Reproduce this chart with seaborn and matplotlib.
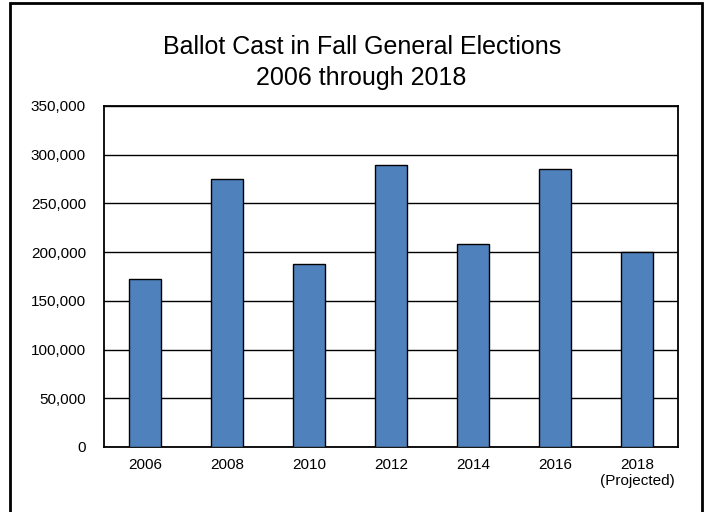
import matplotlib
matplotlib.use("Agg")
import matplotlib.pyplot as plt
from matplotlib.patches import Rectangle
from matplotlib.ticker import FuncFormatter
import seaborn as sns
import pandas as pd

# values
years = ["2006", "2008", "2010", "2012", "2014", "2016", "2018\n(Projected)"]
ballots = [172500, 275000, 188000, 289000, 208000, 285000, 200000]
y_ticks = [0, 50000, 100000, 150000, 200000, 250000, 300000, 350000]

sns.set_style("white")
plt.rcParams['font.family'] = ['Liberation Sans', 'DejaVu Sans']

df = pd.DataFrame({"year": years, "ballots": ballots})

fig = plt.figure(figsize=(7.05, 5.12), dpi=100)
ax = fig.add_axes([0.1475, 0.127, 0.8142, 0.666])

sns.barplot(data=df, x="year", y="ballots", color="#4F81BD", saturation=1,
            edgecolor="black", linewidth=1, width=0.4, ax=ax, zorder=3)

ax.set_ylim(0, 350000)
ax.set_yticks(y_ticks)
ax.yaxis.set_major_formatter(FuncFormatter(lambda v, p: f"{int(v):,}"))
ax.yaxis.grid(True, color="black", linewidth=1, zorder=0)
ax.set_axisbelow(True)
ax.set_xlabel("")
ax.set_ylabel("")
ax.tick_params(axis="both", length=0, labelsize=11, colors="black")
ax.tick_params(axis="y", pad=13)
ax.tick_params(axis="x", pad=8)
for lbl in ax.get_xticklabels():
    lbl.set_linespacing(1.2)
for s in ax.spines.values():
    s.set_visible(True)
    s.set_color("black")
    s.set_linewidth(1.3)

fig.text(0.513, 0.878, "Ballot Cast in Fall General Elections\n2006 through 2018",
         ha="center", va="center", fontsize=18, linespacing=1.32, color="black")

# outer frame (open at the bottom edge)
fig.add_artist(Rectangle((10 / 705, -0.05), 692 / 705, 1.05 - 3 / 512,
                         transform=fig.transFigure, fill=False,
                         edgecolor="black", linewidth=2))

fig.savefig("out.png", dpi=100)
